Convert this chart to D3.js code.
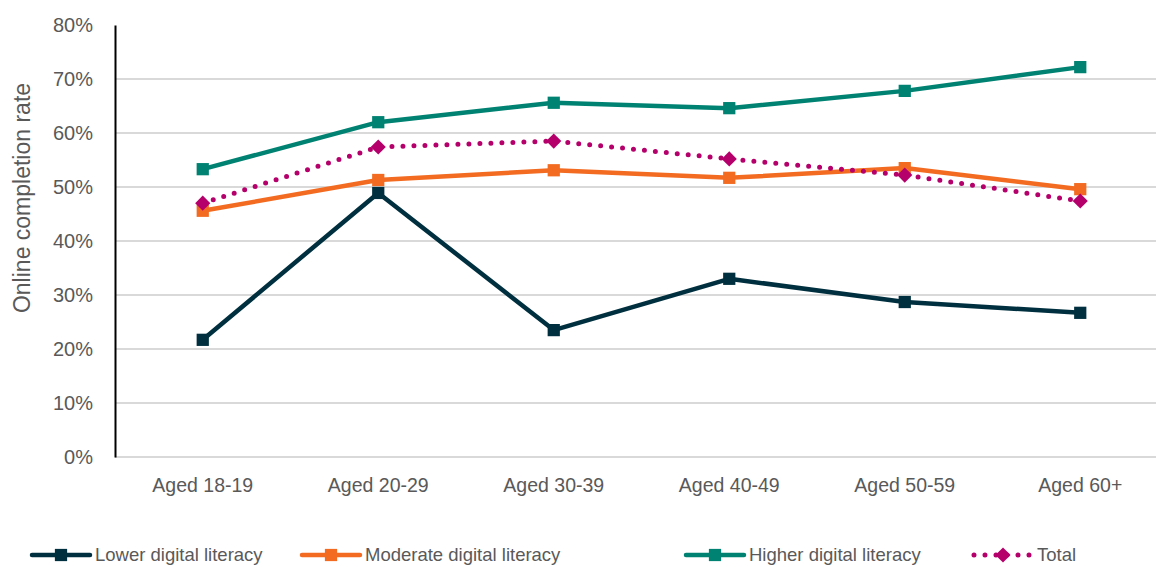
<!DOCTYPE html>
<html>
<head>
<meta charset="utf-8">
<script src="https://cdn.jsdelivr.net/npm/d3@7"></script>
<style>
  body { margin: 0; background: #fff; }
  svg text { font-family: "Liberation Sans", Arial, sans-serif; fill: #595959; }
</style>
</head>
<body>
<svg id="chart" width="1156" height="567"></svg>
<script>
var ageGroups = ['Aged 18-19', 'Aged 20-29', 'Aged 30-39', 'Aged 40-49', 'Aged 50-59', 'Aged 60+'];
var yTicks = [0, 0.1, 0.2, 0.3, 0.4, 0.5, 0.6, 0.7, 0.8];

var lowerLiteracy = [0.217, 0.489, 0.235, 0.330, 0.287, 0.267];
var moderateLiteracy = [0.456, 0.513, 0.531, 0.517, 0.535, 0.496];
var higherLiteracy = [0.533, 0.620, 0.656, 0.646, 0.678, 0.722];
var totalRate = [0.470, 0.574, 0.585, 0.552, 0.522, 0.474];

var series = [
    { name: 'Lower digital literacy', values: lowerLiteracy, color: '#00303f', marker: 'square', dotted: false },
    { name: 'Moderate digital literacy', values: moderateLiteracy, color: '#f26b21', marker: 'square', dotted: false },
    { name: 'Higher digital literacy', values: higherLiteracy, color: '#008272', marker: 'square', dotted: false },
    { name: 'Total', values: totalRate, color: '#b5006b', marker: 'diamond', dotted: true }
];

var svg = d3.select('#chart');

var x = d3.scaleBand()
    .domain(ageGroups)
    .range([115, 1168]);

var y = d3.scaleLinear()
    .domain([0, 0.8])
    .range([457, 25]);

// gridlines (no line at the top)
svg.append('g')
    .selectAll('line')
    .data(yTicks.filter(function(d) { return d < 0.8; }))
    .enter().append('line')
    .attr('x1', 115).attr('x2', 1168)
    .attr('y1', function(d) { return y(d); })
    .attr('y2', function(d) { return y(d); })
    .style('stroke', '#d9d9d9')
    .style('stroke-width', 2);

// y axis
var yAxis = svg.append('g')
    .attr('transform', 'translate(115,0)')
    .call(d3.axisLeft(y).tickValues(yTicks).tickFormat(d3.format('.0%')).tickSize(0).tickPadding(22));
yAxis.select('.domain').style('stroke', '#000').style('stroke-width', 2);
yAxis.selectAll('text').style('font-size', '20px').style('fill', '#595959');

// x axis labels
var xAxis = svg.append('g')
    .attr('transform', 'translate(0,457)')
    .call(d3.axisBottom(x).tickSize(0).tickPadding(21));
xAxis.select('.domain').remove();
xAxis.selectAll('text').style('font-size', '19.5px').style('fill', '#595959');

svg.append('text')
    .attr('transform', 'translate(30,' + 198 + ') rotate(-90)')
    .attr('text-anchor', 'middle')
    .style('font-size', '23px')
    .text('Online completion rate');

var line = d3.line()
    .x(function(d, i) { return x(ageGroups[i]) + x.bandwidth() / 2; })
    .y(function(d) { return y(d); });

var squareSym = d3.symbol().type(d3.symbolSquare).size(150);
var diamondSym = d3.symbol().type(d3.symbolSquare).size(115);

function drawMarker(g, s, px, py) {
    if (s.marker === 'square') {
        g.append('path')
            .attr('d', squareSym())
            .attr('transform', 'translate(' + px + ',' + py + ')')
            .style('fill', s.color);
    } else {
        g.append('path')
            .attr('d', diamondSym())
            .attr('transform', 'translate(' + px + ',' + py + ') rotate(45)')
            .style('fill', s.color);
    }
}

series.forEach(function(s) {
    var g = svg.append('g');
    var path = g.append('path')
        .datum(s.values)
        .attr('d', line)
        .style('fill', 'none')
        .style('stroke', s.color)
        .style('stroke-width', s.dotted ? 5 : 4.5)
        .style('stroke-linejoin', 'round');
    if (s.dotted) {
        path.style('stroke-dasharray', '0 11').style('stroke-linecap', 'round');
    }
    s.values.forEach(function(v, i) {
        drawMarker(g, s, x(ageGroups[i]) + x.bandwidth() / 2, y(v));
    });
});

// legend
var legendX = [30, 300, 684, 972];
series.forEach(function(s, i) {
    var g = svg.append('g').attr('transform', 'translate(' + legendX[i] + ',555)');
    var l = g.append('line')
        .attr('x1', 2).attr('x2', 60)
        .attr('y1', 0).attr('y2', 0)
        .style('stroke', s.color)
        .style('stroke-width', s.dotted ? 5 : 4.5)
        .style('stroke-linecap', 'round');
    if (s.dotted) l.style('stroke-dasharray', '0 11');
    drawMarker(g, s, 31, 0);
    g.append('text')
        .attr('x', 65)
        .attr('y', 0)
        .attr('dy', '0.35em')
        .style('font-size', '18.5px')
        .text(s.name);
});
</script>
</body>
</html>
